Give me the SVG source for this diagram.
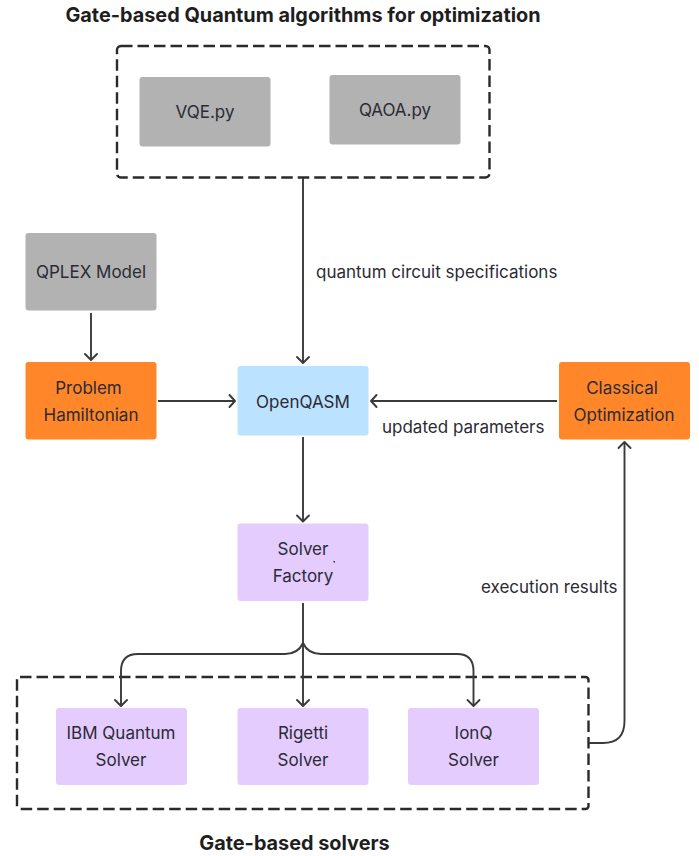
<svg xmlns="http://www.w3.org/2000/svg" width="699" height="856" viewBox="0 0 699 856">
<style>
text{font-family:Inter,"Liberation Sans",sans-serif;font-size:17px;fill:#2b2b33;text-anchor:middle}
.t{font-size:19.850px;font-weight:700;fill:#1e1e1e}
.l{text-anchor:start}
.g{fill:#b2b2b2}.o{fill:#ff8629}.b{fill:#bbe2ff}.p{fill:#e4ccff}
.d{fill:none;stroke:#2a2a2a;stroke-width:2.400;stroke-dasharray:11.500 5}
.c{fill:none;stroke:#3a3a3a;stroke-width:1.900}
.a{fill:none;stroke:#3a3a3a;stroke-width:1.900;stroke-linecap:round;stroke-linejoin:round}
</style>
<rect width="699" height="856" fill="#fff"/>
<g id="title-top"><text class="t" x="303" y="22">Gate-based Quantum algorithms for optimization</text></g>
<g id="group-algorithms"><rect class="d" x="117" y="46" width="372.500" height="131.500" rx="4"/></g>
<g id="vqe"><rect class="g" x="139.500" y="77" width="131" height="69.500" rx="3"/><text x="205" y="118">VQE.py</text></g>
<g id="qaoa"><rect class="g" x="329.500" y="75" width="131" height="69.500" rx="3"/><text x="395" y="116">QAOA.py</text></g>
<g id="qplex"><rect class="g" x="25.500" y="233" width="131" height="77.500" rx="3"/><text x="91" y="278">QPLEX Model</text></g>
<g id="hamiltonian"><rect class="o" x="25.500" y="362" width="131" height="77.500" rx="3"/><text x="88.500" y="394">Problem</text><text x="91" y="421">Hamiltonian</text></g>
<g id="openqasm"><rect class="b" x="237.500" y="366" width="131" height="69.500" rx="3"/><text x="303" y="407.500">OpenQASM</text></g>
<g id="classical"><rect class="o" x="559" y="362" width="131" height="77.500" rx="3"/><text x="622" y="394">Classical</text><text x="624" y="421">Optimization</text></g>
<g id="factory"><rect class="p" x="237.500" y="523.500" width="131" height="77.500" rx="3"/><text x="303" y="555">Solver</text><text x="303" y="581.500">Factory</text><rect x="333.500" y="561" width="1.500" height="1.500" fill="#2b2b33"/></g>
<g id="group-solvers"><rect class="d" x="17" y="677" width="571.500" height="132" rx="3"/></g>
<g id="ibm"><rect class="p" x="56" y="708" width="131" height="77" rx="3"/><text x="121" y="739">IBM Quantum</text><text x="121" y="765.500">Solver</text></g>
<g id="rigetti"><rect class="p" x="237.500" y="708" width="131" height="77" rx="3"/><text x="303" y="739">Rigetti</text><text x="303" y="765.500">Solver</text></g>
<g id="ionq"><rect class="p" x="408" y="708" width="131" height="77" rx="3"/><text x="473.500" y="739">IonQ</text><text x="473.500" y="765.500">Solver</text></g>
<g id="connectors">
<path class="c" d="M303 178V363"/>
<path class="a" d="M297 357l6 6 6-6"/>
<path class="c" d="M91 313V360"/>
<path class="a" d="M85 354l6 6 6-6"/>
<path class="c" d="M158 401H235"/>
<path class="a" d="M229.500 395l5.500 6-5.500 6"/>
<path class="c" d="M557 401H371"/>
<path class="a" d="M376.500 395l-5.500 6 5.500 6"/>
<path class="c" d="M303 437V521.500"/>
<path class="a" d="M297 515.500l6 6 6-6"/>
<path class="c" d="M303 603V706"/>
<path class="a" d="M297 700l6 6 6-6"/>
<path class="c" d="M303 643Q298 654 285 654H138Q121 654 121 671V706"/>
<path class="a" d="M115 700l6 6 6-6"/>
<path class="c" d="M303 643Q308 654 321 654H457Q473.500 654 473.500 671V706"/>
<path class="a" d="M467.500 700l6 6 6-6"/>
<path class="c" d="M589 743H603Q624.500 743 624.500 721V442"/>
<path class="a" d="M618.500 448l6-6 6 6"/>
</g>
<g id="labels">
<text class="l" x="316" y="277.500">quantum circuit specifications</text>
<text class="l" x="382" y="432.500">updated parameters</text>
<text class="l" x="481" y="593">execution results</text>
<text class="t" x="294.500" y="850">Gate-based solvers</text>
</g>
</svg>
